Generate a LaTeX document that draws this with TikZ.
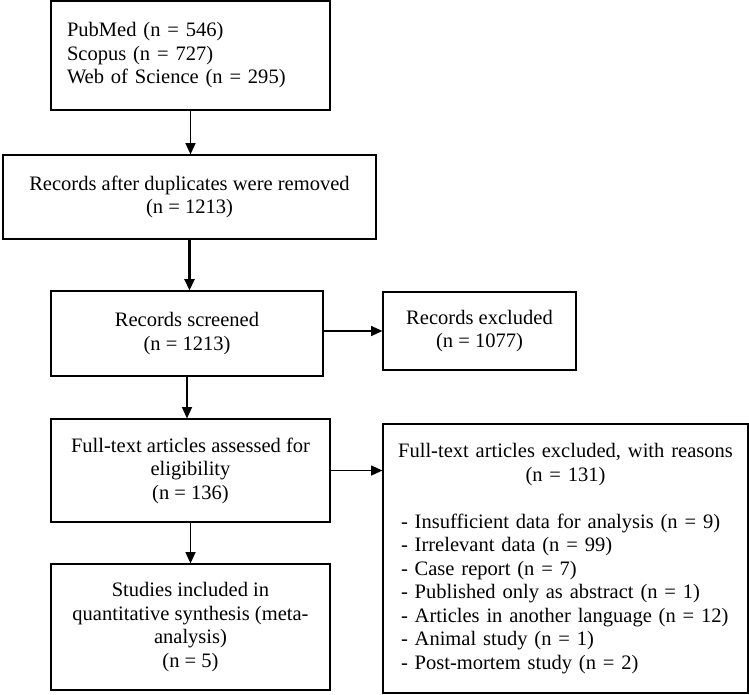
\documentclass[tikz,border=0pt]{standalone}
\usepackage{fontspec}
\setmainfont{Liberation Serif}
\usepackage{tikz}
\usetikzlibrary{arrows.meta,positioning,calc}

\begin{document}
\begin{tikzpicture}[
    x=0.75pt,y=-0.75pt,
    every node/.style={font=\fontsize{15.4}{17.6}\selectfont},
    box/.style={draw,line width=0.9pt,inner sep=0pt,align=center},
    arrow/.style={line width=1.1pt,-{Triangle[length=8.5pt,width=7.5pt]}}
  ]
  \useasboundingbox (0,0) rectangle (749,694);
  \def\Src{PubMed (n = 546)\\Scopus (n = 727)\\Web of Science (n = 295)}
  \def\Dup{Records after duplicates were removed\\(n = 1213)}
  \def\Scr{Records screened\\(n = 1213)}
  \def\Excl{Records excluded\\(n = 1077)}
  \def\Full{Full-text articles assessed for\\eligibility\\(n = 136)}
  \def\Incl{Studies included in\\quantitative synthesis (meta-\\analysis)\\(n = 5)}
  % left column
  \node[box,align=left,text width=185.25pt,minimum width=209.25pt,minimum height=81.75pt]
    (src) at (190.5,55.5) {\Src};
  \node[box,minimum width=279.75pt,minimum height=63pt] (dup) at (189.5,197) {\Dup};
  \node[box,minimum width=204pt,minimum height=63.75pt] (scr) at (187,333.5) {\Scr};
  \node[box,minimum width=209.25pt,minimum height=77.25pt] (full) at (190.5,470.5) {\Full};
  \node[box,minimum width=209.25pt,minimum height=94.5pt] (incl) at (190.5,627) {\Incl};
  % right column
  \node[box,minimum width=144.75pt,minimum height=58.5pt] (excl) at (479.5,331) {\Excl};
  \node[box,align=left,text width=246.75pt,minimum width=273.75pt,minimum height=201.75pt]
    (reas) at (565.5,558.5) {%
    \makebox[\linewidth]{Full-text articles excluded, with reasons}\\
    \makebox[\linewidth]{(n = 131)}\par
    \vspace{\baselineskip}
    \raggedright
    - Insufficient data for analysis (n = 9)\\
    - Irrelevant data (n = 99)\\
    - Case report (n = 7)\\
    - Published only as abstract (n = 1)\\
    - Articles in another language (n = 12)\\
    - Animal study (n = 1)\\
    - Post-mortem study (n = 2)};
  % connectors
  \foreach \a/\b in {src/dup,scr/full,full/incl}
  \draw[arrow] (\a.south) -- (\a.south |- \b.north);
  \draw[arrow,line width=1.8pt] (dup.south) -- (dup.south |- scr.north);
  \draw[arrow] (excl.west -| scr.east) -- (excl.west);
  \draw[arrow] (full.east) -- (full.east -| reas.west);
\end{tikzpicture}
\end{document}
